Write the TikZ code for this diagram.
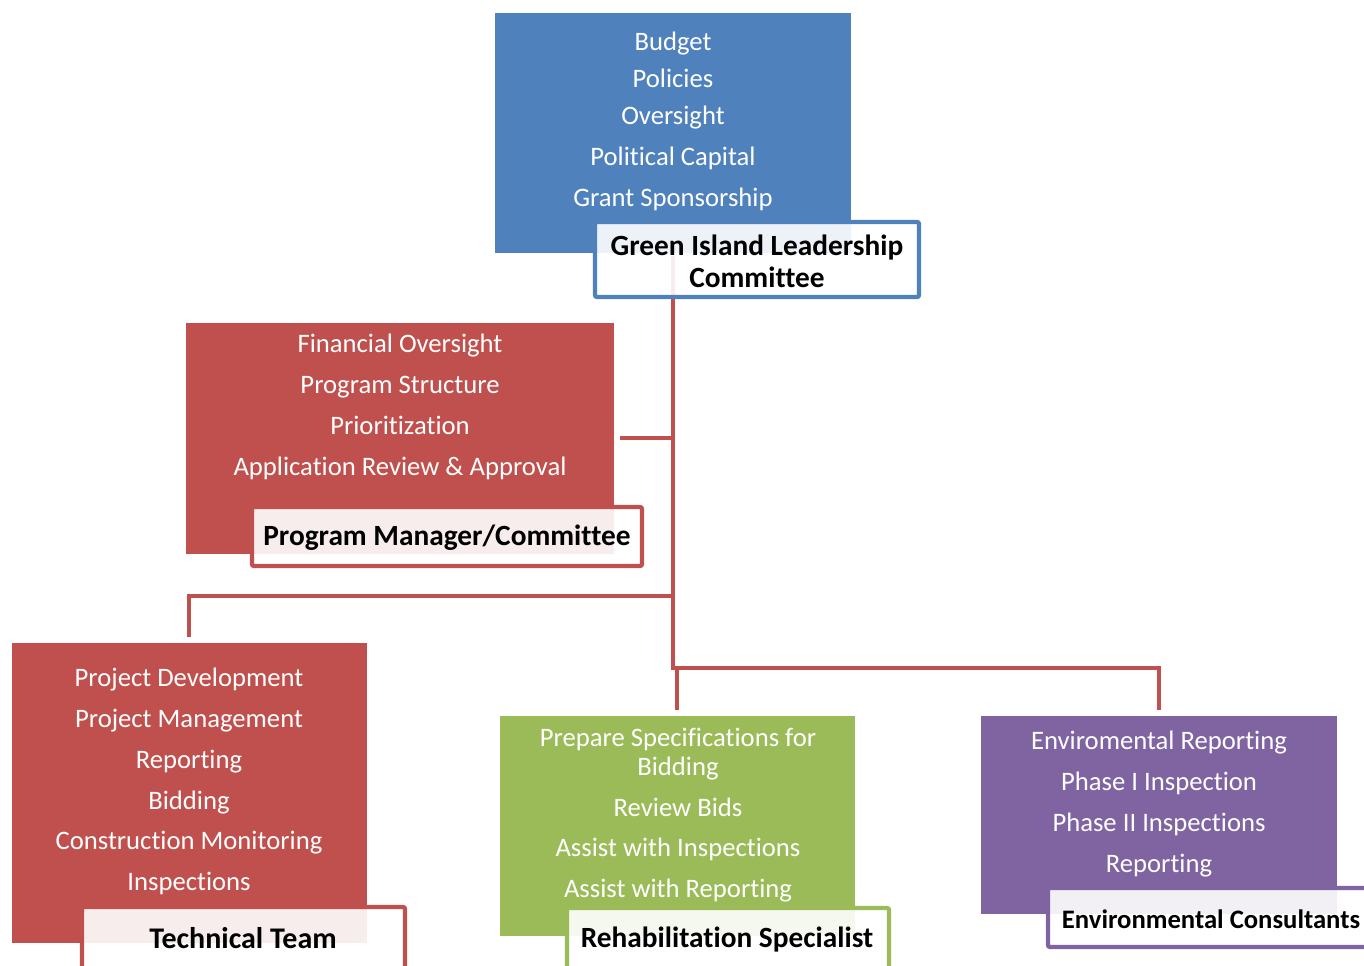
\documentclass[tikz,border=0pt]{standalone}
\usepackage{fontspec}
\setmainfont{Carlito}[Ligatures=CommonOff]
\definecolor{blu}{HTML}{4F81BD}
\definecolor{rd}{HTML}{C0504D}
\definecolor{grn}{HTML}{9BBB59}
\definecolor{prp}{HTML}{8064A2}
\tikzset{
  panel/.style={fill=#1, draw=none, inner sep=0pt, rectangle},
  item/.style={text=white, inner sep=0pt, text height=0.72em, text depth=0.22em,
    yshift=-3.75pt, font=\fontsize{20}{22}\selectfont},
  tag/.style={draw=#1, line width=3.2pt, fill=white, fill opacity=0.9, text opacity=1,
    rounded corners=1.5pt, inner sep=0pt, align=center},
  tagtext/.style={font=\bfseries\fontsize{#1}{24}\selectfont, align=center, inner sep=0pt,
    yshift=-1.5pt},
  link/.style={draw=rd, line width=3pt}
}
% panel: name, x1, y1, x2, y2, colour (pixel-like units)
\newcommand{\mkpanel}[6]{%
  \node[panel=#6, minimum width={(#4-#2)*0.75pt}, minimum height={(#5-#3)*0.75pt}]
    (#1) at ({(#2+#4)/2},{(#3+#5)/2}) {};}
\begin{document}
\begin{tikzpicture}[x=0.75pt,y=-0.75pt]
\useasboundingbox (0,0) rectangle (1364,965);

% junctions of the connector tree
\coordinate (jPM) at (673,438);
\coordinate (jTT) at (673,596);
\coordinate (jBot) at (673,668);
\coordinate (jRS) at (677,668);
\coordinate (ePM) at (620,438);
\coordinate (eTT) at (189,637);
\coordinate (eRS) at (677,710);
\coordinate (eEC) at (1159,710);
\coordinate (top) at (673,256);

% connectors
\draw[link] (top) -- (jBot) -| (eEC);
\draw[link] (ePM) -- (jPM);
\draw[link] (jTT) -| (eTT);
\draw[link] (jRS) -- (eRS);

% coloured panels
\mkpanel{gil}{495}{13}{851}{253}{blu}
\mkpanel{pm}{186}{323}{614}{554}{rd}
\mkpanel{tt}{12}{643}{367}{943}{rd}
\mkpanel{rs}{500}{716}{855}{936}{grn}
\mkpanel{ec}{981}{716}{1337}{914}{prp}

% panel contents
\node[item] (g1) at (673,42) {Budget};
\node[item] (g2) at (673,79) {Policies};
\node[item] (g3) at (673,116) {Oversight};
\node[item] (g4) at (673,157) {Political Capital};
\node[item] (g5) at (673,198) {Grant Sponsorship};

\node[item] (p1) at (400,344) {Financial Oversight};
\node[item] (p2) at (400,385) {Program Structure};
\node[item] (p3) at (400,426) {Prioritization};
\node[item] (p4) at (400,467) {Application Review \& Approval};

\node[item] (t1) at (189,678) {Project Development};
\node[item] (t2) at (189,719) {Project Management};
\node[item] (t3) at (189,760) {Reporting};
\node[item] (t4) at (189,801) {Bidding};
\node[item] (t5) at (189,841) {Construction Monitoring};
\node[item] (t6) at (189,882) {Inspections};

\node[item] (r1) at (678,738) {Prepare Specifications for};
\node[item] (r2) at (678,767) {Bidding};
\node[item] (r3) at (678,808) {Review Bids};
\node[item] (r4) at (678,848) {Assist with Inspections};
\node[item] (r5) at (678,889) {Assist with Reporting};

\node[item] (e1) at (1159,741) {Enviromental Reporting};
\node[item] (e2) at (1159,782) {Phase I Inspection};
\node[item] (e3) at (1159,823) {Phase II Inspections};
\node[item] (e4) at (1159,864) {Reporting};

% role labels
\node[tag=blu, minimum width={324*0.75pt}, minimum height={75*0.75pt}] (gilT) at (757,259.5) {};
\node[tagtext=22] (gilL) at (757,259) {Green Island Leadership\\Committee};
\node[tag=rd, minimum width={390*0.75pt}, minimum height={59*0.75pt}] (pmT) at (447,536.5) {};
\node[tagtext=22] (pmL) at (447,536) {Program Manager/Committee};
\node[tag=rd, minimum width={323*0.75pt}, minimum height={100*0.75pt}] (ttT) at (243.5,957) {};
\node[tagtext=22.5] (ttL) at (243,936) {Technical Team};
\node[tag=grn, minimum width={322*0.75pt}, minimum height={100*0.75pt}] (rsT) at (728,958) {};
\node[tagtext=22] (rsL) at (727,937) {Rehabilitation Specialist};
\node[tag=prp, minimum width={340*0.75pt}, minimum height={59*0.75pt}] (ecT) at (1218,917.5) {};
\node[tagtext=20] (ecL) at (1211,917) {Environmental Consultants};
\end{tikzpicture}
\end{document}
